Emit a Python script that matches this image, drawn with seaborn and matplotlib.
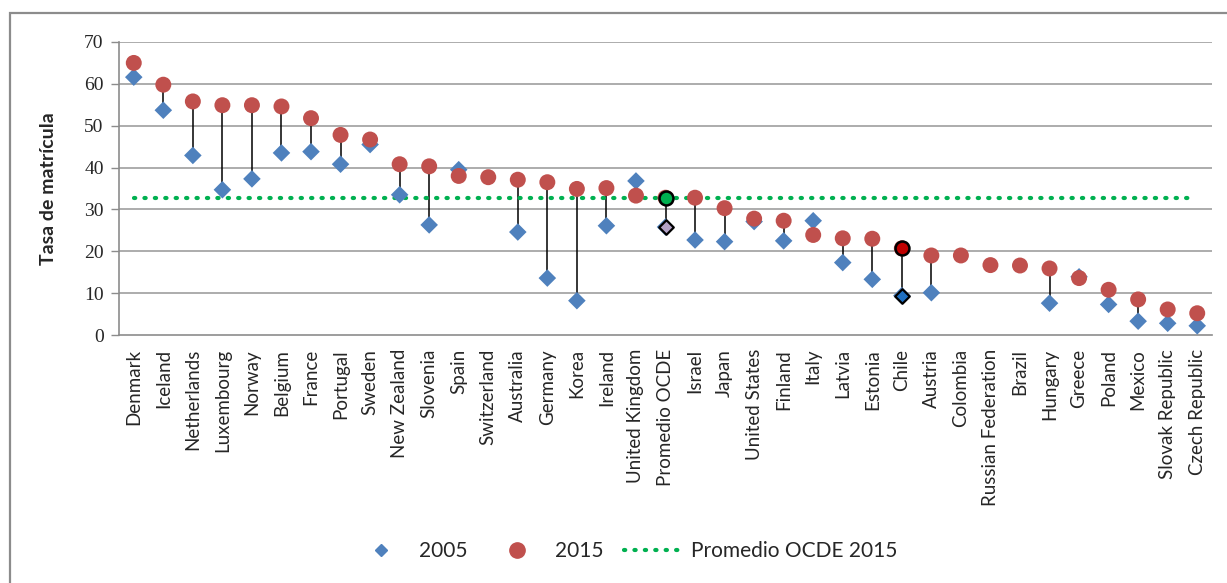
import matplotlib
matplotlib.use("Agg")
import matplotlib.pyplot as plt
import seaborn as sns
import numpy as np
import pandas as pd
from matplotlib.lines import Line2D
from matplotlib.patches import Rectangle

countries = ["Denmark", "Iceland", "Netherlands", "Luxembourg", "Norway", "Belgium", "France",
             "Portugal", "Sweden", "New Zealand", "Slovenia", "Spain", "Switzerland", "Australia",
             "Germany", "Korea", "Ireland", "United Kingdom", "Promedio OCDE", "Israel", "Japan",
             "United States", "Finland", "Italy", "Latvia", "Estonia", "Chile", "Austria",
             "Colombia", "Russian Federation", "Brazil", "Hungary", "Greece", "Poland", "Mexico",
             "Slovak Republic", "Czech Republic"]
v2005 = [61.6, 53.7, 42.9, 34.7, 37.3, 43.5, 43.8, 40.8, 45.5, 33.5, 26.3, 39.5, np.nan, 24.6,
         13.6, 8.2, 26.1, 36.8, 25.8, 22.7, 22.3, 27.1, 22.5, 27.3, 17.3, 13.3, 9.4, 10.1,
         np.nan, np.nan, np.nan, 7.6, 13.9, 7.3, 3.3, 2.8, 2.2]
v2015 = [65.0, 59.8, 55.8, 54.9, 54.9, 54.6, 51.8, 47.8, 46.7, 40.8, 40.3, 38.0, 37.7, 37.1,
         36.5, 34.9, 35.1, 33.3, 32.8, 32.8, 30.3, 27.8, 27.3, 23.9, 23.1, 23.0, 20.7, 19.0,
         19.0, 16.7, 16.6, 15.9, 13.6, 10.8, 8.5, 6.1, 5.2]
oecd_avg_2015 = 32.8
yticks = [0, 10, 20, 30, 40, 50, 60, 70]

df = pd.DataFrame({"country": countries, "y2005": v2005, "y2015": v2015})
df["x"] = np.arange(len(df))

BLUE = "#4F81BD"
RED = "#C0504D"
GREEN = "#00B050"
DOTS = (0, (0.3, 2.2))

sns.set_style("white")
plt.rcParams["font.family"] = ["Lato", "DejaVu Sans"]

fig = plt.figure(figsize=(12.27, 5.83), dpi=100)
ax = fig.add_axes([119 / 1227, 1 - 335 / 583, (1212 - 119) / 1227, (335 - 42) / 583])

# outer frame
fig.patches.append(Rectangle((10 / 1227, -0.1), 1.2, 1 - 13 / 583 + 0.1, transform=fig.transFigure,
                             fill=False, edgecolor="#8C8C8C", linewidth=1.6, zorder=0))

for yv in yticks[1:]:
    ax.axhline(yv, color="#A6A6A6", lw=1.3, zorder=0)

both = df.dropna()
ax.vlines(both["x"], both["y2005"], both["y2015"], color="black", lw=1.1, zorder=1)

ax.plot([0, len(df) - 1.2], [oecd_avg_2015, oecd_avg_2015], linestyle=DOTS,
        color=GREEN, lw=3.0, dash_capstyle="round", zorder=2)

sns.scatterplot(data=df, x="x", y="y2005", marker="D", s=80, color=BLUE, edgecolor="none",
                ax=ax, zorder=3, legend=False)
sns.scatterplot(data=df, x="x", y="y2015", marker="o", s=132, color=RED, edgecolor="none",
                ax=ax, zorder=4, legend=False)

# highlighted points
i_oecd = countries.index("Promedio OCDE")
i_chile = countries.index("Chile")
ax.scatter([i_oecd], [v2005[i_oecd]], marker="D", s=55, color="#B3A2C7", edgecolor="black",
           linewidth=1.6, zorder=5)
ax.scatter([i_oecd], [v2015[i_oecd]], marker="o", s=100, color=GREEN, edgecolor="black",
           linewidth=1.8, zorder=5)
ax.scatter([i_chile], [v2005[i_chile]], marker="D", s=55, color="#1F6FC0", edgecolor="black",
           linewidth=1.6, zorder=5)
ax.scatter([i_chile], [v2015[i_chile]], marker="o", s=100, color="#C00000", edgecolor="black",
           linewidth=1.8, zorder=5)

ax.set_xlim(-0.5, len(df) - 0.5)
ax.set_ylim(0, 70)
ax.set_yticks(yticks)
ax.set_yticklabels([str(t) for t in yticks], fontfamily="Liberation Serif", fontsize=14)
ax.set_xticks(df["x"])
ax.set_xticklabels(countries, rotation=90, fontsize=13.5)
ax.tick_params(axis="y", length=6, width=1, color="#8C8C8C", left=True, pad=5)
ax.tick_params(axis="x", length=0, pad=10)
ax.set_xlabel("")
ax.set_ylabel("Tasa de matrícula", fontsize=14, fontweight="bold")
ax.yaxis.set_label_coords(-0.057, 0.5)

for side in ["top", "right"]:
    ax.spines[side].set_visible(False)
for side in ["left", "bottom"]:
    ax.spines[side].set_color("#8C8C8C")
    ax.spines[side].set_linewidth(1.2)

handles = [
    Line2D([], [], marker="D", color=BLUE, linestyle="none", markersize=6.5),
    Line2D([], [], marker="o", color=RED, linestyle="none", markersize=11),
    Line2D([], [], color=GREEN, linestyle=DOTS, lw=3.0, dash_capstyle="round"),
]
fig.legend(handles, ["2005", "2015", "Promedio OCDE 2015"], loc="center",
           bbox_to_anchor=(625 / 1227, 1 - 551 / 583), ncol=3, frameon=False,
           fontsize=15, handlelength=2.7, columnspacing=1.0, handletextpad=0.5)

fig.savefig("out.png", dpi=100)
